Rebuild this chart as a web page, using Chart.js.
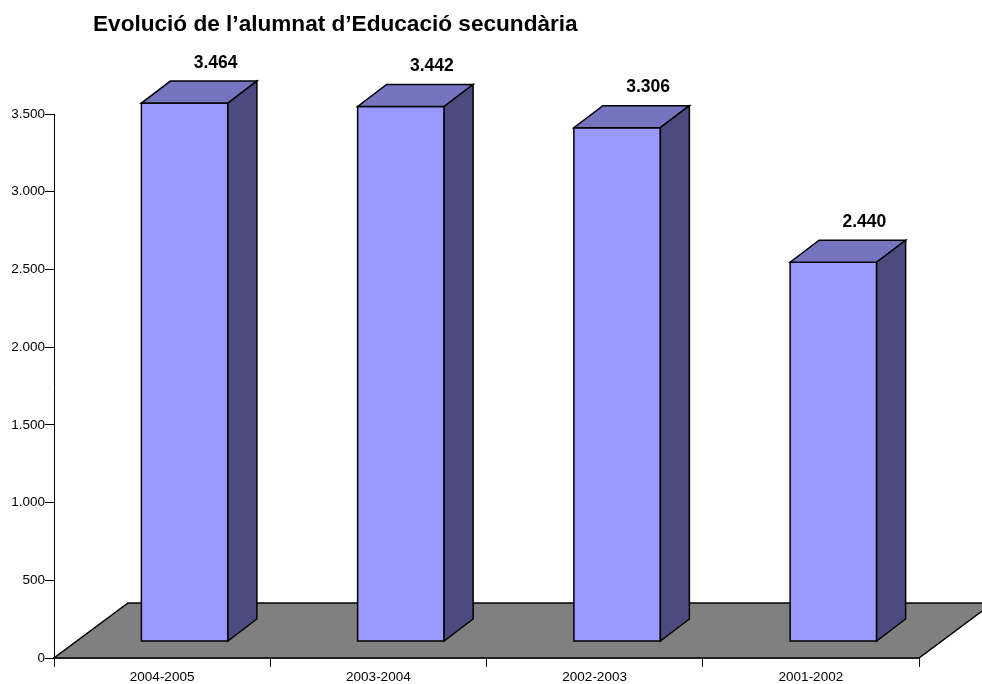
<!DOCTYPE html>
<html><head><meta charset="utf-8">
<script src="https://cdn.jsdelivr.net/npm/chart.js@4/dist/chart.umd.min.js"></script>
<style>html,body{margin:0;padding:0;background:#fff}</style>
</head><body>
<canvas id="c" width="982" height="684"></canvas>
<script>
const chartTitle = 'Evolució de l’alumnat d’Educació secundària';
const categories = ['2004-2005', '2003-2004', '2002-2003', '2001-2002'];
const alumnat = [3464, 3442, 3306, 2440];
const yMin = 0, yMax = 3500, yStep = 500;

const FONT = 'Arial, "Liberation Sans", sans-serif';
const fmt = v => String(v).replace(/\B(?=(\d{3})+(?!\d))/g, '.');

// 3D geometry (pixels)
const FLOOR_DX = 74, FLOOR_DY = 55;
const BAR_DX = 29, BAR_DY = 22;
const OFF_DX = (FLOOR_DX - BAR_DX) / 2, OFF_DY = (FLOOR_DY - BAR_DY) / 2;

function poly(ctx, pts, fill) {
  ctx.beginPath();
  ctx.moveTo(pts[0][0], pts[0][1]);
  for (let i = 1; i < pts.length; i++) ctx.lineTo(pts[i][0], pts[i][1]);
  ctx.closePath();
  ctx.fillStyle = fill;
  ctx.fill();
  ctx.stroke();
}

const threeD = {
  id: 'threeD',
  beforeDatasetsDraw(chart) {
    const {ctx, chartArea} = chart;
    const yb = chart.scales.y.getPixelForValue(0);
    const x0 = chartArea.left, x1 = chartArea.right;
    ctx.save();
    ctx.lineWidth = 1.5;
    ctx.strokeStyle = '#000';
    ctx.lineJoin = 'miter';
    poly(ctx, [[x0, yb], [x1, yb], [x1 + FLOOR_DX, yb - FLOOR_DY], [x0 + FLOOR_DX, yb - FLOOR_DY]], '#808080');
    ctx.restore();
  },
  afterDatasetsDraw(chart) {
    const {ctx} = chart;
    const meta = chart.getDatasetMeta(0);
    ctx.save();
    ctx.lineWidth = 1.5;
    ctx.strokeStyle = '#000';
    meta.data.forEach((el, i) => {
      const p = el.getProps(['x', 'y', 'base', 'width'], true);
      const fl = p.x - p.width / 2 + OFF_DX, fr = p.x + p.width / 2 + OFF_DX;
      const ft = p.y - OFF_DY, fb = p.base - OFF_DY;
      poly(ctx, [[fl, ft], [fr, ft], [fr, fb], [fl, fb]], '#9999FF');
      poly(ctx, [[fl, ft], [fr, ft], [fr + BAR_DX, ft - BAR_DY], [fl + BAR_DX, ft - BAR_DY]], '#7474C0');
      poly(ctx, [[fr, ft], [fr + BAR_DX, ft - BAR_DY], [fr + BAR_DX, fb - BAR_DY], [fr, fb]], '#4B4B80');
      ctx.fillStyle = '#000';
      ctx.font = 'bold 17.5px ' + FONT;
      ctx.textAlign = 'center';
      ctx.textBaseline = 'middle';
      ctx.fillText(fmt(chart.data.datasets[0].data[i]), p.x + OFF_DX + BAR_DX + 2, ft - BAR_DY - 18);
    });
    ctx.restore();
  },
  afterDraw(chart) {
    const {ctx} = chart;
    ctx.save();
    ctx.fillStyle = '#000';
    ctx.font = 'bold 22.6px ' + FONT;
    ctx.textAlign = 'left';
    ctx.textBaseline = 'alphabetic';
    ctx.fillText(chartTitle, 93, 31);
    ctx.restore();
  }
};

new Chart(document.getElementById('c'), {
  type: 'bar',
  data: {
    labels: categories,
    datasets: [{
      data: alumnat,
      backgroundColor: 'rgba(0,0,0,0)',
      borderWidth: 0,
      barPercentage: 0.4,
      categoryPercentage: 1.0
    }]
  },
  options: {
    responsive: false,
    devicePixelRatio: 1,
    animation: false,
    layout: {padding: {top: 114, right: 63, left: 0, bottom: 0}},
    plugins: {legend: {display: false}, tooltip: {enabled: false}, title: {display: false}},
    scales: {
      x: {
        type: 'category',
        grid: {offset: true, drawOnChartArea: false, color: '#000', tickLength: 9, lineWidth: 1},
        border: {color: '#000', width: 1.5},
        ticks: {color: '#000', font: {family: FONT, size: 13.5}, padding: 2, maxRotation: 0},
        afterFit: s => { s.height = 26; }
      },
      y: {
        min: yMin, max: yMax,
        grid: {drawOnChartArea: false, color: '#000', tickLength: 9, lineWidth: 1},
        border: {color: '#000', width: 1},
        ticks: {stepSize: yStep, color: '#000', font: {family: FONT, size: 13.5}, padding: 0, callback: v => fmt(v)},
        afterFit: s => { s.width = 54; }
      }
    }
  },
  plugins: [threeD]
});
</script>
</body></html>
